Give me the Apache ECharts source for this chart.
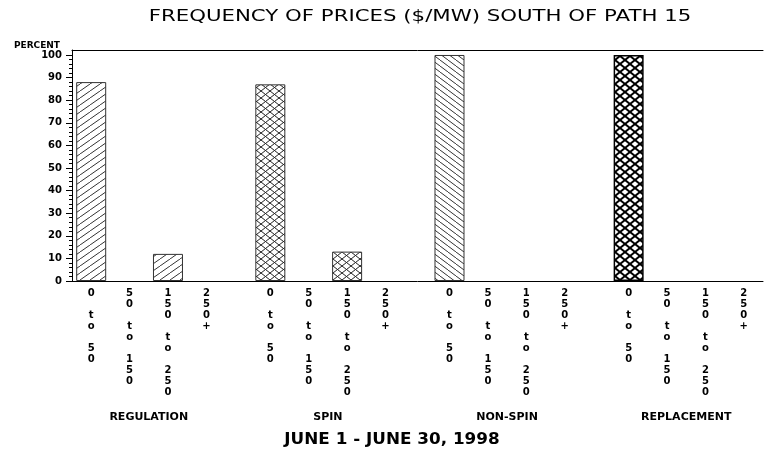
<!DOCTYPE html>
<html>
<head>
<meta charset="utf-8">
<script src="https://cdn.jsdelivr.net/npm/echarts@6/dist/echarts.min.js"></script>
<style>
html, body { margin: 0; padding: 0; background: #fff; }
#chart { width: 766px; height: 456px; }
</style>
</head>
<body>
<div id="chart"></div>
<script>
// groups along the x axis and the price bins inside each group
const groups = ['REGULATION', 'SPIN', 'NON-SPIN', 'REPLACEMENT']
const bins = ['0\n\nt\no\n\n5\n0', '5\n0\n\nt\no\n\n1\n5\n0', '1\n5\n0\n\nt\no\n\n2\n5\n0', '2\n5\n0\n+']
// percent of hours in each bin
const regulation = [88, 0, 12, 0]
const spin = [87, 0, 13, 0]
const nonSpin = [100, 0, 0, 0]
const replacement = [100, 0, 0, 0]
const yMajor = [0, 10, 20, 30, 40, 50, 60, 70, 80, 90, 100]
const yMinor = [0, 2, 4, 6, 8, 10, 12, 14, 16, 18, 20, 22, 24, 26, 28, 30, 32, 34, 36, 38, 40, 42, 44, 46, 48, 50,
  52, 54, 56, 58, 60, 62, 64, 66, 68, 70, 72, 74, 76, 78, 80, 82, 84, 86, 88, 90, 92, 94, 96, 98, 100]

const FONT = 'DejaVu Sans'
const SLOTS = 54
const slotOf = (g, i) => 1 + 14 * g + 3 * i

// hatch tiles for the bars
function hatch(w, h, dirs, lw, color) {
  const c = document.createElement('canvas')
  c.width = w
  c.height = h
  const ctx = c.getContext('2d')
  ctx.fillStyle = '#fff'
  ctx.fillRect(0, 0, w, h)
  ctx.strokeStyle = color
  ctx.lineWidth = lw
  dirs.forEach(d => {
    for (let k = -1; k <= 1; k++) {
      ctx.beginPath()
      if (d === '/') {
        ctx.moveTo(k * w, h)
        ctx.lineTo(k * w + w, 0)
      } else {
        ctx.moveTo(k * w, 0)
        ctx.lineTo(k * w + w, h)
      }
      ctx.stroke()
    }
  })
  return { image: c, repeat: 'repeat' }
}

const binAxis = new Array(SLOTS).fill('')
groups.forEach((g, gi) => bins.forEach((b, i) => { binAxis[slotOf(gi, i)] = b }))
const groupAxis = new Array(SLOTS + 1).fill('')
groups.forEach((g, gi) => { groupAxis[6 + 14 * gi] = g })

// zero bins leave no bar at all
function slotData(g, values) {
  const arr = new Array(SLOTS).fill('-')
  values.forEach((v, i) => { arr[slotOf(g, i)] = v === 0 ? '-' : v })
  return arr
}

const styles = [
  { color: hatch(10, 7, ['/'], 1, '#333'), borderColor: '#333', borderWidth: 1 },
  { color: hatch(9, 7, ['/', '\\'], 1, '#222'), borderColor: '#333', borderWidth: 1 },
  { color: hatch(8, 6, ['\\'], 1, '#333'), borderColor: '#333', borderWidth: 1 },
  { color: hatch(10, 8, ['/', '\\'], 2, '#000'), borderColor: '#000', borderWidth: 1.5 }
]

const chart = echarts.init(document.getElementById('chart'))
chart.setOption({
  animation: false,
  graphic: [
    {
      type: 'text',
      x: 420,
      y: 17,
      scaleX: 1.33,
      style: {
        text: 'FREQUENCY OF PRICES ($/MW) SOUTH OF PATH 15',
        font: 'normal 16px "DejaVu Sans"',
        fill: '#000',
        align: 'center',
        verticalAlign: 'middle'
      }
    },
    {
      type: 'text',
      x: 392,
      y: 440,
      scaleX: 1.12,
      style: {
        text: 'JUNE 1 - JUNE 30, 1998',
        font: 'bold 15px "DejaVu Sans"',
        fill: '#000',
        align: 'center',
        verticalAlign: 'middle'
      }
    }
  ],
  grid: { left: 72, right: 0, top: 50, bottom: 175, containLabel: false },
  xAxis: [
    {
      type: 'category',
      data: binAxis,
      position: 'bottom',
      axisLine: { lineStyle: { color: '#000', width: 1 } },
      axisTick: { show: false },
      axisLabel: {
        interval: 0,
        margin: 7,
        fontFamily: FONT,
        fontSize: 10,
        fontWeight: 'bold',
        lineHeight: 11,
        color: '#000'
      }
    },
    {
      type: 'category',
      data: groupAxis,
      boundaryGap: false,
      position: 'bottom',
      offset: 122,
      axisLine: { show: false },
      axisTick: { show: false },
      axisLabel: {
        interval: 0,
        margin: 9,
        fontFamily: FONT,
        fontSize: 11,
        fontWeight: 'bold',
        color: '#000'
      }
    },
    {
      type: 'category',
      data: binAxis,
      position: 'top',
      axisLine: { lineStyle: { color: '#000', width: 1 } },
      axisTick: { show: false },
      axisLabel: { show: false }
    }
  ],
  yAxis: [
    {
      type: 'value',
      min: 0,
      max: 102.2,
      name: 'PERCENT',
      nameLocation: 'end',
      nameGap: 0,
      nameTextStyle: { fontFamily: FONT, fontSize: 9, fontWeight: 'bold', color: '#000', align: 'right', padding: [0, 12, 0, 0] },
      axisLine: { show: true, lineStyle: { color: '#000', width: 1 } },
      axisTick: { show: true, customValues: yMajor, length: 6, lineStyle: { color: '#000' } },
      axisLabel: { customValues: yMajor, margin: 10, fontFamily: FONT, fontSize: 10, fontWeight: 'bold', color: '#000' },
      splitLine: { show: false }
    },
    {
      type: 'value',
      min: 0,
      max: 102.2,
      position: 'left',
      axisLine: { show: false },
      axisTick: { show: true, customValues: yMinor, length: 3, lineStyle: { color: '#000' } },
      axisLabel: { show: false },
      splitLine: { show: false }
    }
  ],
  series: [regulation, spin, nonSpin, replacement].map((vals, g) => ({
    name: groups[g],
    type: 'bar',
    xAxisIndex: 0,
    yAxisIndex: 0,
    barWidth: 30,
    barGap: '-100%',
    data: slotData(g, vals),
    itemStyle: styles[g]
  }))
})
</script>
</body>
</html>
